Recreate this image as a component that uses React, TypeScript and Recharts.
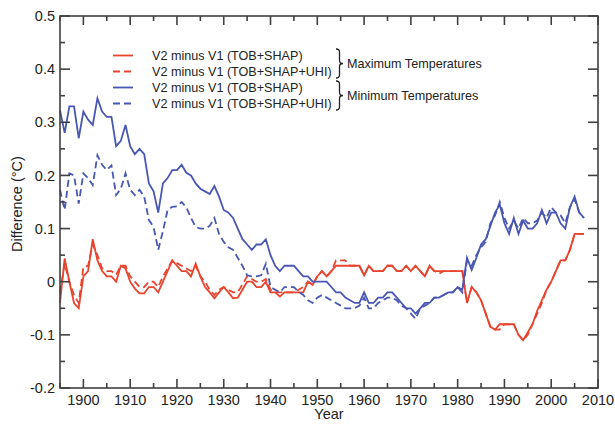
import React from 'react';
import { LineChart, Line, XAxis, YAxis } from 'recharts';

// Years along the x axis
const years = [
  1895, 1896, 1897, 1898, 1899,
  1900, 1901, 1902, 1903, 1904, 1905, 1906, 1907, 1908, 1909,
  1910, 1911, 1912, 1913, 1914, 1915, 1916, 1917, 1918, 1919,
  1920, 1921, 1922, 1923, 1924, 1925, 1926, 1927, 1928, 1929,
  1930, 1931, 1932, 1933, 1934, 1935, 1936, 1937, 1938, 1939,
  1940, 1941, 1942, 1943, 1944, 1945, 1946, 1947, 1948, 1949,
  1950, 1951, 1952, 1953, 1954, 1955, 1956, 1957, 1958, 1959,
  1960, 1961, 1962, 1963, 1964, 1965, 1966, 1967, 1968, 1969,
  1970, 1971, 1972, 1973, 1974, 1975, 1976, 1977, 1978, 1979,
  1980, 1981, 1982, 1983, 1984, 1985, 1986, 1987, 1988, 1989,
  1990, 1991, 1992, 1993, 1994, 1995, 1996, 1997, 1998, 1999,
  2000, 2001, 2002, 2003, 2004, 2005, 2006, 2007,
];

// Maximum temperatures, V2 minus V1 (TOB+SHAP)
const maxTobShap = [
  -0.04, 0.044, 0.0, -0.04, -0.05,
  0.01, 0.02, 0.08, 0.04, 0.02, 0.01, 0.01, 0.0, 0.03, 0.025,
  0.0, -0.013, -0.022, -0.022, -0.01, -0.01, -0.02, 0.0, 0.02, 0.04,
  0.03, 0.02, 0.02, 0.01, 0.034, 0.01, -0.01, -0.02, -0.031, -0.02,
  -0.01, -0.02, -0.031, -0.03, -0.015, 0.0, 0.0, -0.01, -0.01, 0.0,
  -0.02, -0.02, -0.028, -0.02, -0.02, -0.02, -0.02, -0.02, 0.0, -0.006,
  0.01, 0.02, 0.01, 0.02, 0.03, 0.03, 0.03, 0.03, 0.03, 0.03,
  0.012, 0.03, 0.02, 0.02, 0.02, 0.03, 0.03, 0.02, 0.02, 0.03,
  0.02, 0.03, 0.02, 0.01, 0.03, 0.02, 0.02, 0.02, 0.02, 0.02,
  0.02, 0.02, -0.04, -0.01, -0.02, -0.035, -0.06, -0.085, -0.09, -0.08,
  -0.08, -0.08, -0.08, -0.1, -0.11, -0.095, -0.08, -0.055, -0.035, -0.015,
  0.0, 0.02, 0.04, 0.04, 0.06, 0.09, 0.09, 0.09,
];

// Maximum temperatures, V2 minus V1 (TOB+SHAP+UHI)
const maxTobShapUhi = [
  -0.02, 0.034, 0.0, -0.025, -0.04,
  0.028, 0.03, 0.07, 0.05, 0.025, 0.02, 0.02, 0.013, 0.03, 0.03,
  0.01, 0.0, -0.01, -0.01, 0.0, 0.0, -0.01, 0.01, 0.025, 0.04,
  0.035, 0.03, 0.025, 0.02, 0.03, 0.01, 0.0, -0.015, -0.025, -0.015,
  -0.01, -0.015, -0.02, -0.02, -0.005, 0.01, 0.005, 0.0, 0.0, 0.005,
  -0.015, -0.02, -0.02, -0.02, -0.02, -0.02, -0.015, -0.01, 0.0, -0.005,
  0.01, 0.02, 0.01, 0.02, 0.04, 0.04, 0.04, 0.03, 0.03, 0.03,
  0.012, 0.03, 0.02, 0.02, 0.02, 0.03, 0.03, 0.02, 0.02, 0.03,
  0.02, 0.03, 0.02, 0.01, 0.03, 0.02, 0.015, 0.02, 0.02, 0.02,
  0.02, 0.02, -0.04, -0.01, -0.02, -0.035, -0.06, -0.085, -0.09, -0.09,
  -0.08, -0.08, -0.08, -0.1, -0.11, -0.1, -0.08, -0.06, -0.04, -0.015,
  0.0, 0.02, 0.04, 0.04, 0.06, 0.09, 0.09, 0.09,
];

// Minimum temperatures, V2 minus V1 (TOB+SHAP)
const minTobShap = [
  0.323, 0.28, 0.33, 0.33, 0.27,
  0.32, 0.305, 0.295, 0.345, 0.32, 0.31, 0.31, 0.255, 0.265, 0.295,
  0.255, 0.24, 0.25, 0.24, 0.185, 0.17, 0.13, 0.185, 0.195, 0.21,
  0.21, 0.22, 0.205, 0.2, 0.185, 0.175, 0.17, 0.165, 0.18, 0.16,
  0.135, 0.13, 0.12, 0.1, 0.08, 0.07, 0.06, 0.07, 0.07, 0.08,
  0.05, 0.03, 0.02, 0.03, 0.03, 0.03, 0.02, 0.01, 0.01, 0.0,
  0.0, 0.0, 0.0, -0.01, -0.02, -0.02, -0.03, -0.035, -0.04, -0.04,
  -0.02, -0.04, -0.04, -0.03, -0.03, -0.02, -0.02, -0.03, -0.04, -0.05,
  -0.05, -0.06, -0.05, -0.04, -0.04, -0.03, -0.03, -0.025, -0.02, -0.02,
  -0.01, -0.015, 0.045, 0.022, 0.045, 0.07, 0.08, 0.105, 0.13, 0.145,
  0.11, 0.09, 0.12, 0.09, 0.115, 0.1, 0.1, 0.11, 0.135, 0.11,
  0.13, 0.13, 0.11, 0.1, 0.14, 0.16, 0.13, 0.12,
];

// Minimum temperatures, V2 minus V1 (TOB+SHAP+UHI)
const minTobShapUhi = [
  0.173, 0.135, 0.204, 0.2, 0.147,
  0.204, 0.195, 0.182, 0.238, 0.22, 0.21, 0.219, 0.163, 0.175, 0.204,
  0.173, 0.163, 0.173, 0.16, 0.116, 0.103, 0.06, 0.095, 0.135, 0.141,
  0.142, 0.15, 0.14, 0.12, 0.103, 0.1, 0.1, 0.105, 0.12, 0.09,
  0.075, 0.065, 0.06, 0.045, 0.03, 0.012, 0.01, 0.01, 0.012, 0.034,
  -0.01, -0.015, -0.02, -0.01, -0.01, -0.01, -0.019, -0.025, -0.035, -0.04,
  -0.03, -0.025, -0.03, -0.035, -0.04, -0.045, -0.05, -0.05, -0.05, -0.045,
  -0.03, -0.05, -0.05, -0.04, -0.035, -0.03, -0.03, -0.035, -0.045, -0.05,
  -0.06, -0.07, -0.05, -0.045, -0.04, -0.03, -0.03, -0.025, -0.02, -0.02,
  -0.01, -0.02, 0.04, 0.03, 0.05, 0.065, 0.075, 0.11, 0.125, 0.15,
  0.12, 0.1, 0.115, 0.1, 0.12, 0.11, 0.11, 0.115, 0.13, 0.12,
  0.14, 0.13, 0.125, 0.11, 0.14, 0.155, 0.13, 0.12,
];

const xTicks = [1895, 1900, 1905, 1910, 1915, 1920, 1925, 1930, 1935, 1940, 1945, 1950, 1955, 1960, 1965, 1970, 1975, 1980, 1985, 1990, 1995, 2000, 2005, 2010];
const yTicks = [-0.2, -0.15, -0.1, -0.05, 0, 0.05, 0.1, 0.15, 0.2, 0.25, 0.3, 0.35, 0.4, 0.45, 0.5];

const legendLabels = ['V2 minus V1 (TOB+SHAP)', 'V2 minus V1 (TOB+SHAP+UHI)', 'V2 minus V1 (TOB+SHAP)', 'V2 minus V1 (TOB+SHAP+UHI)'];
const groupLabels = ['Maximum Temperatures', 'Minimum Temperatures'];

const RED = '#e8442e';
const BLUE = '#4857b3';
const AXIS = '#404040';
const AXIS_W = 1.6;
const TEXT = '#222';
const FONT = '"Liberation Sans", Arial, Helvetica, sans-serif';
const DASH = '7 4';

// plot box (matches chart margins + axis sizes below)
const W = 615;
const H = 426;
const PL = 60;
const PR = 598;
const PT = 16;
const PB = 388;
const X_DOMAIN = [1895, 2010];
const Y_DOMAIN = [-0.2, 0.5];

const data = years.map((year, i) => ({
  year,
  maxTobShap: maxTobShap[i],
  maxTobShapUhi: maxTobShapUhi[i],
  minTobShap: minTobShap[i],
  minTobShapUhi: minTobShapUhi[i],
}));

const isMajorX = (v: number) => v % 10 === 0;
const isMajorY = (v: number) => Math.round(v * 100) % 10 === 0;
const fmtY = (v: number) => (Math.abs(v) < 1e-9 ? '0' : v.toFixed(1));

// tick labels only; tick marks and frame are drawn in the overlay
const BottomTick = (props: any) => {
  const { x, y, payload } = props;
  if (!isMajorX(payload.value)) return <g />;
  return (
    <text x={x} y={y + 17} textAnchor="middle" fontSize={14.5} fontFamily={FONT} fill={TEXT}>
      {payload.value}
    </text>
  );
};

const LeftTick = (props: any) => {
  const { x, y, payload } = props;
  if (!isMajorY(payload.value)) return <g />;
  return (
    <text x={x - 5} y={y + 5.2} textAnchor="end" fontSize={14.5} fontFamily={FONT} fill={TEXT}>
      {fmtY(payload.value)}
    </text>
  );
};

// inward tick marks on all four sides plus the box
const Frame = () => {
  const sx = (v: number) => PL + ((v - X_DOMAIN[0]) / (X_DOMAIN[1] - X_DOMAIN[0])) * (PR - PL);
  const sy = (v: number) => PB - ((v - Y_DOMAIN[0]) / (Y_DOMAIN[1] - Y_DOMAIN[0])) * (PB - PT);
  return (
    <g>
      <rect x={PL} y={PT} width={PR - PL} height={PB - PT} fill="none" stroke={AXIS} strokeWidth={AXIS_W} />
      {xTicks.map((v) => {
        const len = isMajorX(v) ? 9 : 5;
        const x = sx(v);
        return (
          <g key={`x${v}`}>
            <line x1={x} x2={x} y1={PB} y2={PB - len} stroke={AXIS} strokeWidth={AXIS_W} />
            <line x1={x} x2={x} y1={PT} y2={PT + len} stroke={AXIS} strokeWidth={AXIS_W} />
          </g>
        );
      })}
      {yTicks.map((v) => {
        const len = isMajorY(v) ? 10 : 5;
        const y = sy(v);
        return (
          <g key={`y${v}`}>
            <line x1={PL} x2={PL + len} y1={y} y2={y} stroke={AXIS} strokeWidth={AXIS_W} />
            <line x1={PR} x2={PR - len} y1={y} y2={y} stroke={AXIS} strokeWidth={AXIS_W} />
          </g>
        );
      })}
    </g>
  );
};

// right-facing curly brace
const bracePath = (x0: number, top: number, bottom: number, w: number) => {
  const mid = (top + bottom) / 2;
  const xm = x0 + w / 2;
  const q = 3;
  return `M ${x0} ${top} Q ${xm} ${top} ${xm} ${top + q} L ${xm} ${mid - q} Q ${xm} ${mid} ${x0 + w} ${mid} Q ${xm} ${mid} ${xm} ${mid + q} L ${xm} ${bottom - q} Q ${xm} ${bottom} ${x0} ${bottom}`;
};

const LegendBox = () => {
  const rows = [55.5, 71.5, 87.5, 103.5];
  const colors = [RED, RED, BLUE, BLUE];
  return (
    <g>
      {rows.map((ry, i) => (
        <g key={i}>
          <line x1={113} x2={133} y1={ry} y2={ry} stroke={colors[i]} strokeWidth={1.8} strokeDasharray={i % 2 ? DASH : undefined} />
          <text x={152} y={ry + 4.5} fontSize={12.6} fontFamily={FONT} fill={TEXT}>
            {legendLabels[i]}
          </text>
        </g>
      ))}
      <path d={bracePath(336, 49, 78, 7)} fill="none" stroke={TEXT} strokeWidth={1.3} />
      <path d={bracePath(336, 81, 110, 7)} fill="none" stroke={TEXT} strokeWidth={1.3} />
      <text x={347} y={67.5} fontSize={12.6} fontFamily={FONT} fill={TEXT}>{groupLabels[0]}</text>
      <text x={347} y={99.5} fontSize={12.6} fontFamily={FONT} fill={TEXT}>{groupLabels[1]}</text>
    </g>
  );
};

export default function App() {
  return (
    <div style={{ position: 'absolute', left: 0, top: 0, width: W, height: H, background: '#fff' }}>
      <LineChart width={W} height={H} data={data} margin={{ top: PT, right: W - PR, bottom: 0, left: 0 }}>
        <XAxis
          dataKey="year"
          type="number"
          domain={X_DOMAIN}
          ticks={xTicks}
          interval={0}
          height={H - PB}
          tickSize={0}
          tickMargin={0}
          tickLine={false}
          axisLine={false}
          tick={<BottomTick />}
        />
        <YAxis
          type="number"
          domain={Y_DOMAIN}
          ticks={yTicks}
          interval={0}
          width={PL}
          tickSize={0}
          tickMargin={0}
          tickLine={false}
          axisLine={false}
          tick={<LeftTick />}
        />
        <Line dataKey="maxTobShap" stroke={RED} strokeWidth={1.8} dot={false} isAnimationActive={false} />
        <Line dataKey="maxTobShapUhi" stroke={RED} strokeWidth={1.8} strokeDasharray={DASH} dot={false} isAnimationActive={false} />
        <Line dataKey="minTobShap" stroke={BLUE} strokeWidth={1.8} dot={false} isAnimationActive={false} />
        <Line dataKey="minTobShapUhi" stroke={BLUE} strokeWidth={1.8} strokeDasharray={DASH} dot={false} isAnimationActive={false} />
      </LineChart>
      <svg width={W} height={H} style={{ position: 'absolute', left: 0, top: 0, pointerEvents: 'none' }}>
        <Frame />
        <LegendBox />
        <text x={(PL + PR) / 2} y={419} textAnchor="middle" fontSize={14.5} fontFamily={FONT} fill={TEXT}>Year</text>
        <text
          x={17}
          y={204}
          textAnchor="middle"
          dominantBaseline="central"
          transform="rotate(-90 17 204)"
          fontSize={14.5}
          fontFamily={FONT}
          fill={TEXT}
        >
          Difference (°C)
        </text>
      </svg>
    </div>
  );
}
